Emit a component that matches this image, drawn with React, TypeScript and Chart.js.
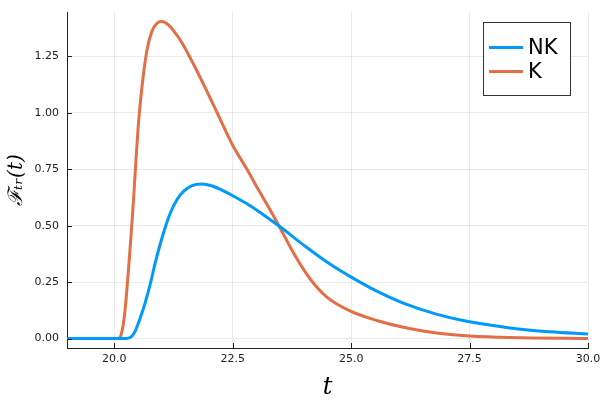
import React, { useEffect, useRef } from "react";
import { Chart, registerables } from "chart.js";

Chart.register(...registerables);

// ---- data ----
const nkT = [19, 20.2, 20.3, 20.37, 20.44, 20.51, 20.58, 20.65, 20.76, 20.86, 20.97, 21.07, 21.18, 21.32, 21.46, 21.64, 21.85, 22.05, 22.25, 22.49, 22.8, 23.07, 23.5, 23.99, 24.48, 25.0, 25.54, 26.1, 26.8, 27.5, 28.35, 29.19, 30];
const nkV = [0, 0, 0.002, 0.01, 0.033, 0.07, 0.112, 0.158, 0.243, 0.333, 0.42, 0.49, 0.555, 0.615, 0.652, 0.678, 0.685, 0.677, 0.66, 0.634, 0.597, 0.56, 0.495, 0.415, 0.34, 0.272, 0.21, 0.157, 0.108, 0.074, 0.047, 0.03, 0.02];
const kT = [19, 20.08, 20.14, 20.2, 20.25, 20.3, 20.35, 20.4, 20.45, 20.5, 20.55, 20.62, 20.69, 20.79, 20.9, 21.0, 21.14, 21.3, 21.43, 21.71, 21.99, 22.16, 22.49, 22.8, 23.04, 23.29, 23.5, 23.78, 24.13, 24.48, 25.0, 25.54, 26.1, 26.8, 27.5, 28.35, 30];
const kV = [0, 0, 0.015, 0.08, 0.18, 0.31, 0.45, 0.6, 0.77, 0.93, 1.05, 1.18, 1.28, 1.36, 1.397, 1.405, 1.39, 1.35, 1.31, 1.2, 1.08, 1.005, 0.86, 0.75, 0.66, 0.57, 0.49, 0.38, 0.265, 0.185, 0.12, 0.08, 0.05, 0.024, 0.011, 0.004, 0];
const seriesLabels = ["NK", "K"];
const seriesColors = ["#009AFA", "#E26F46"];
const xTicks = [20, 22.5, 25, 27.5, 30];
const yTicks = [0, 0.25, 0.5, 0.75, 1.0, 1.25];
const xTitle = "t";
const yTitle = "ℱₜᵣ(t)";

const AXIS = "#222222";
const TICKFONT = { family: "DejaVu Sans", size: 11 };

const innerTicks = {
  id: "innerTicks",
  afterDatasetsDraw(chart: any) {
    const { ctx, chartArea } = chart;
    const xs = chart.scales.x;
    const ys = chart.scales.y;
    ctx.save();
    ctx.strokeStyle = AXIS;
    ctx.lineWidth = 1;
    ctx.beginPath();
    xs.ticks.forEach((t: any) => {
      const px = Math.round(xs.getPixelForValue(t.value)) + 0.5;
      ctx.moveTo(px, chartArea.bottom);
      ctx.lineTo(px, chartArea.bottom - 5);
    });
    ys.ticks.forEach((t: any) => {
      const py = Math.round(ys.getPixelForValue(t.value)) + 0.5;
      ctx.moveTo(chartArea.left, py);
      ctx.lineTo(chartArea.left + 5, py);
    });
    ctx.stroke();
    ctx.restore();
  },
};

const boxLegend = {
  id: "boxLegend",
  afterDraw(chart: any) {
    const { ctx } = chart;
    const x0 = 483.5, y0 = 22.5, w = 87, h = 73;
    ctx.save();
    ctx.fillStyle = "#ffffff";
    ctx.fillRect(x0, y0, w, h);
    ctx.strokeStyle = "#333333";
    ctx.lineWidth = 1;
    ctx.strokeRect(x0, y0, w, h);
    chart.data.datasets.forEach((ds: any, i: number) => {
      const cy = 47.5 + i * 24;
      ctx.strokeStyle = ds.borderColor;
      ctx.lineWidth = 3;
      ctx.beginPath();
      ctx.moveTo(489, cy);
      ctx.lineTo(523, cy);
      ctx.stroke();
      ctx.fillStyle = "#000000";
      ctx.font = "21px 'DejaVu Sans'";
      ctx.textBaseline = "middle";
      ctx.textAlign = "left";
      ctx.fillText(ds.label, 528, cy + 1);
    });
    ctx.restore();
  },
};

export default function App() {
  const ref = useRef<HTMLCanvasElement | null>(null);
  useEffect(() => {
    if (!ref.current) return;
    const toPts = (ts: number[], vs: number[]) => ts.map((t, i) => ({ x: t, y: vs[i] }));
    const chart = new Chart(ref.current, {
      type: "line",
      data: {
        datasets: [
          { label: seriesLabels[0], data: toPts(nkT, nkV), borderColor: seriesColors[0], backgroundColor: seriesColors[0], borderWidth: 3, pointRadius: 0, cubicInterpolationMode: "monotone", fill: false },
          { label: seriesLabels[1], data: toPts(kT, kV), borderColor: seriesColors[1], backgroundColor: seriesColors[1], borderWidth: 3, pointRadius: 0, cubicInterpolationMode: "monotone", fill: false },
        ],
      },
      options: {
        animation: false,
        responsive: false,
        maintainAspectRatio: false,
        layout: { padding: { left: 0, top: 12, right: 12, bottom: 0 } },
        plugins: { legend: { display: false }, tooltip: { enabled: false } },
        scales: {
          x: {
            type: "linear",
            min: 19,
            max: 30,
            afterBuildTicks: (s: any) => { s.ticks = xTicks.map((v) => ({ value: v })); },
            afterFit: (s: any) => { s.height = 52; s.paddingRight = 12; s.paddingLeft = 0; },
            ticks: { callback: (v: any) => Number(v).toFixed(1), font: TICKFONT, color: AXIS, padding: 5, maxRotation: 0, autoSkip: false },
            grid: { color: "rgba(0,0,0,0.08)", lineWidth: 1, drawTicks: false },
            border: { display: true, color: AXIS, width: 1 },
            title: { display: true, text: xTitle, font: { family: "DejaVu Serif", style: "italic", size: 24, lineHeight: 1 }, color: "#000", padding: { top: 0, bottom: 0 } },
          },
          y: {
            type: "linear",
            min: -0.042,
            max: 1.447,
            afterBuildTicks: (s: any) => { s.ticks = yTicks.map((v) => ({ value: v })); },
            afterFit: (s: any) => { s.width = 67; s.paddingTop = 0; s.paddingBottom = 0; },
            ticks: { callback: (v: any) => Number(v).toFixed(2), font: TICKFONT, color: AXIS, padding: 8, autoSkip: false },
            grid: { color: "rgba(0,0,0,0.08)", lineWidth: 1, drawTicks: false },
            border: { display: true, color: AXIS, width: 1 },
            title: { display: true, text: yTitle, font: { family: "DejaVu Serif", style: "italic", size: 20, lineHeight: 1.2 }, color: "#000", padding: { top: 5, bottom: 0 } },
          },
        },
      } as any,
      plugins: [innerTicks, boxLegend],
    });
    return () => chart.destroy();
  }, []);
  return (
    <div style={{ position: "absolute", left: 0, top: 0, width: 600, height: 400, background: "#fff" }}>
      <canvas ref={ref} width={600} height={400} style={{ width: 600, height: 400, display: "block" }} />
    </div>
  );
}
